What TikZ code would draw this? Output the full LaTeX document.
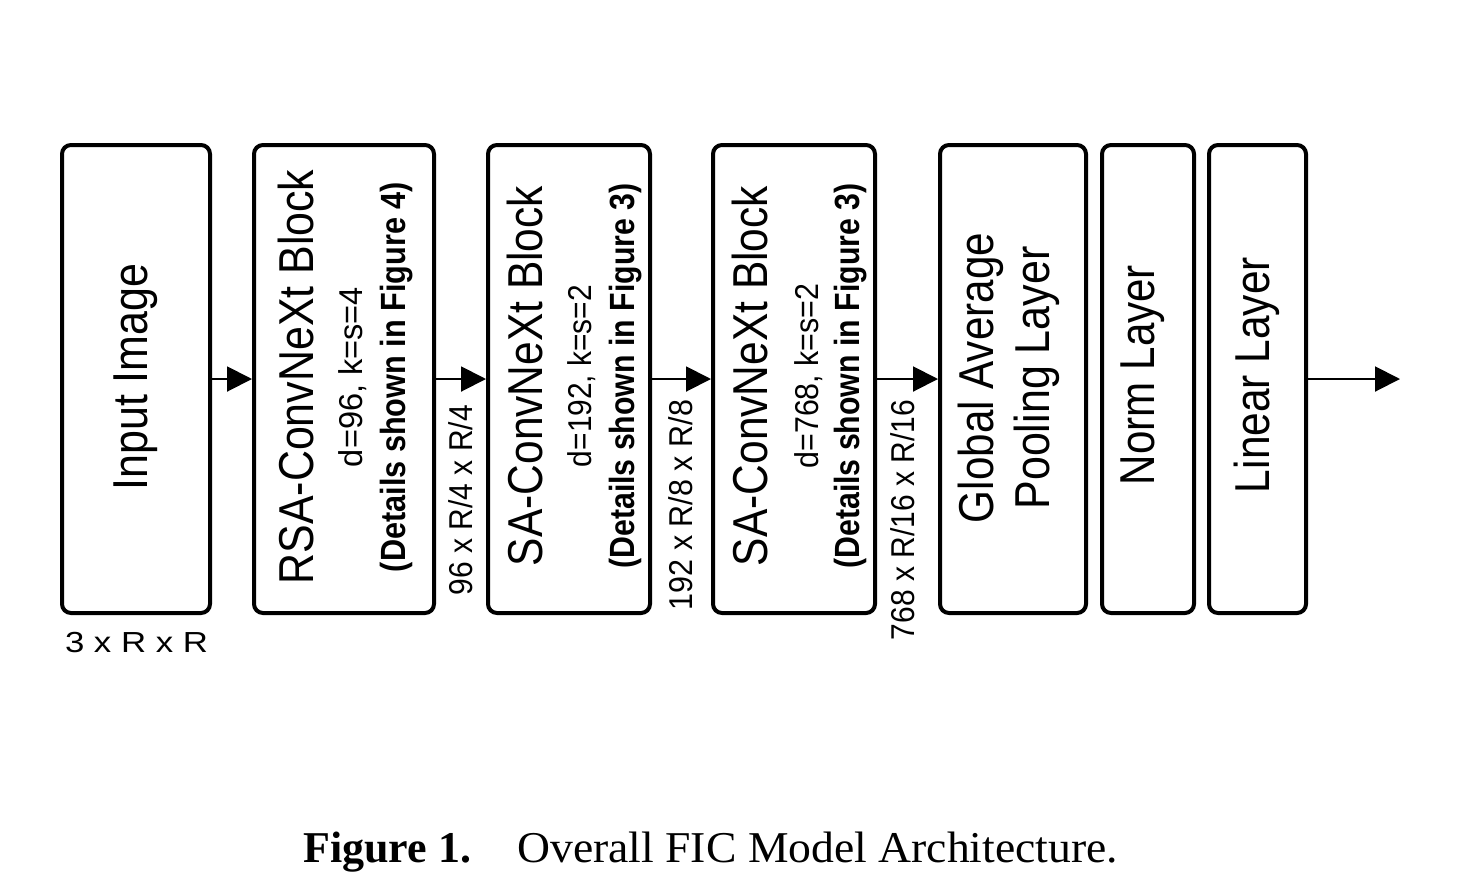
\documentclass[tikz,border=0pt]{standalone}
\usepackage{fontspec}
\usetikzlibrary{arrows.meta}
\newfontfamily\lsans{Liberation Sans}
\newfontfamily\lserif{Liberation Serif}
\newsavebox\fitbox
\newcommand\fitto[2]{\sbox\fitbox{#2}\pgfmathsetmacro\fitfac{#1/\the\wd\fitbox}\scalebox{\fitfac}[1]{\usebox\fitbox}}
\newcommand\fs[1]{\fontsize{#1}{#1}\selectfont}
\tikzset{
  blk/.style={draw, line width=4pt, rounded corners=9pt, inner sep=0pt, minimum height=468pt},
  vtxt/.style={rotate=90, anchor=base, inner sep=0pt, outer sep=0pt, font=\lsans},
  lab/.style={rotate=90, anchor=base east, inner sep=0pt, outer sep=0pt, font=\lsans},
  arr/.style={line width=2pt, -{Triangle[length=25pt,width=25pt]}}
}
\begin{document}
\begin{tikzpicture}[x=1pt,y=-1pt]
\useasboundingbox (0,0) rectangle (1480,892);
% boxes
\node[blk, minimum width=148pt] (in) at (136,379) {};
\node[blk, minimum width=180pt] (rsa) at (344,379) {};
\node[blk, minimum width=162pt] (sa1) at (569,379) {};
\node[blk, minimum width=162pt] (sa2) at (794,379) {};
\node[blk, minimum width=146pt] (gap) at (1013,379) {};
\node[blk, minimum width=92pt] (norm) at (1148,379) {};
\node[blk, minimum width=97pt] (lin) at (1257.5,379) {};
% texts
\node[vtxt] (tin) at (147,377) {\fs{49}\fitto{227pt}{Input Image}};
\node[vtxt] (trsa) at (313,377) {\fs{49}\fitto{415pt}{RSA-ConvNeXt Block}};
\node[vtxt] (drsa) at (362,377) {\fs{33}\fitto{180pt}{d=96, k=s=4}};
\node[vtxt] (brsa) at (405,377) {\fs{35}\bfseries\fitto{390pt}{(Details shown in Figure 4)}};
\node[vtxt] (tsa1) at (542,376) {\fs{49}\fitto{380pt}{SA-ConvNeXt Block}};
\node[vtxt] (dsa1) at (591,376) {\fs{33}\fitto{182pt}{d=192, k=s=2}};
\node[vtxt] (bsa1) at (634,376) {\fs{35}\bfseries\fitto{385pt}{(Details shown in Figure 3)}};
\node[vtxt] (tsa2) at (767,376) {\fs{49}\fitto{380pt}{SA-ConvNeXt Block}};
\node[vtxt] (dsa2) at (818,376) {\fs{33}\fitto{185pt}{d=768, k=s=2}};
\node[vtxt] (bsa2) at (859,376) {\fs{35}\bfseries\fitto{385pt}{(Details shown in Figure 3)}};
\node[vtxt] (tgap1) at (993,378) {\fs{49}\fitto{290pt}{Global Average}};
\node[vtxt] (tgap2) at (1049,378) {\fs{49}\fitto{263pt}{Pooling Layer}};
\node[vtxt] (tnorm) at (1154,375) {\fs{49}\fitto{220pt}{Norm Layer}};
\node[vtxt] (tlin) at (1269,375) {\fs{49}\fitto{236pt}{Linear Layer}};
% size labels
\node[lab] (l1) at (472,405) {\fs{33}\fitto{190pt}{96 x R/4 x R/4}};
\node[lab] (l2) at (692,400) {\fs{33}\fitto{210pt}{192 x R/8 x R/8}};
\node[lab] (l3) at (914,400) {\fs{33}\fitto{240pt}{768 x R/16 x R/16}};
\node[anchor=base, inner sep=0pt, font=\lsans] (l0) at (136.5,652) {\fs{29}\fitto{143pt}{3 x R x R}};
% arrows
\coordinate (out) at (1400,379);
\draw[arr] (in.east) -- (rsa.west);
\draw[arr] (rsa.east) -- (sa1.west);
\draw[arr] (sa1.east) -- (sa2.west);
\draw[arr] (sa2.east) -- (gap.west);
\draw[arr] (lin.east) -- (out);
% caption
\node[anchor=base west, inner sep=0pt, font=\lserif] (cap1) at (303,862) {\fs{44}\bfseries Figure 1.};
\node[anchor=base west, inner sep=0pt, font=\lserif] (cap2) at (517,862) {\fs{44}\fitto{601pt}{Overall FIC Model Architecture.}};
\end{tikzpicture}
\end{document}
